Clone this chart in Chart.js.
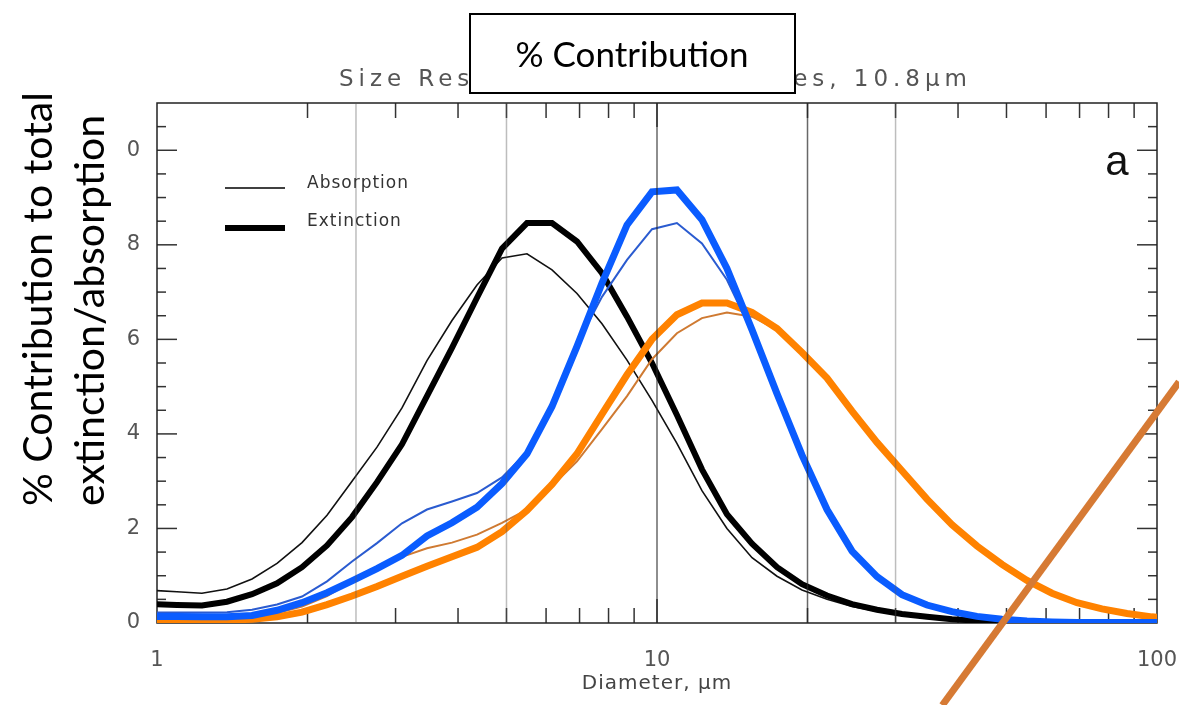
<!DOCTYPE html>
<html>
<head>
<meta charset="utf-8">
<title>% Contribution</title>
<script src="https://cdn.jsdelivr.net/npm/chart.js@4/dist/chart.umd.min.js"></script>
<style>
  body { margin: 0; background: #fff; }
  #wrap { width: 1179px; height: 705px; position: relative; }
</style>
</head>
<body>
<div id="wrap"><canvas id="myChart" width="1179" height="705"></canvas></div>
<script>
// size bins (diameter, um) - log spaced
const diameters = [0.977, 1.096, 1.230, 1.380, 1.549, 1.738, 1.950, 2.188, 2.455, 2.754,
  3.090, 3.467, 3.890, 4.365, 4.898, 5.495, 6.166, 6.918, 7.762, 8.710,
  9.772, 10.96, 12.30, 13.80, 15.49, 17.38, 19.50, 21.88, 24.55, 27.54,
  30.90, 34.67, 38.90, 43.65, 48.98, 54.95, 61.66, 69.18, 77.62, 87.10,
  97.72, 109.6];

// % contribution, black group
const blackAbs = [0.69, 0.66, 0.63, 0.72, 0.93, 1.26, 1.70, 2.28, 3.00, 3.72,
  4.55, 5.55, 6.40, 7.15, 7.72, 7.81, 7.47, 6.97, 6.33, 5.56,
  4.71, 3.80, 2.80, 2.00, 1.38, 0.99, 0.70, 0.50, 0.35, 0.25,
  0.17, 0.11, 0.07, 0.05, 0.03, 0.02, 0.01, 0.01, 0, 0, 0, 0];
const blackExt = [0.40, 0.38, 0.37, 0.45, 0.61, 0.84, 1.18, 1.64, 2.24, 2.98,
  3.78, 4.80, 5.82, 6.88, 7.92, 8.46, 8.46, 8.07, 7.40, 6.48,
  5.50, 4.40, 3.25, 2.30, 1.68, 1.18, 0.82, 0.58, 0.40, 0.28,
  0.19, 0.13, 0.08, 0.05, 0.03, 0.02, 0.01, 0.01, 0, 0, 0, 0];

// blue group
const blueAbs = [0.22, 0.22, 0.22, 0.23, 0.28, 0.39, 0.56, 0.88, 1.30, 1.69,
  2.11, 2.40, 2.57, 2.75, 3.08, 3.62, 4.62, 5.90, 6.90, 7.68,
  8.33, 8.46, 8.03, 7.26, 6.15, 4.82, 3.52, 2.38, 1.50, 0.96,
  0.59, 0.37, 0.23, 0.13, 0.07, 0.04, 0.02, 0.01, 0.01, 0.01, 0.01, 0.01];
const blueExt = [0.14, 0.14, 0.13, 0.13, 0.16, 0.27, 0.43, 0.64, 0.89, 1.15,
  1.43, 1.84, 2.12, 2.45, 2.95, 3.58, 4.58, 5.85, 7.19, 8.42,
  9.12, 9.16, 8.53, 7.50, 6.20, 4.85, 3.55, 2.40, 1.52, 0.98,
  0.60, 0.38, 0.24, 0.14, 0.08, 0.04, 0.02, 0.01, 0.01, 0.01, 0.01, 0.01];

// orange group
const orangeAbs = [0.08, 0.08, 0.08, 0.09, 0.13, 0.21, 0.35, 0.57, 0.88, 1.14,
  1.40, 1.58, 1.70, 1.87, 2.12, 2.40, 2.90, 3.42, 4.10, 4.80,
  5.58, 6.13, 6.45, 6.57, 6.48, 6.20, 5.70, 5.15, 4.45, 3.80,
  3.20, 2.60, 2.06, 1.61, 1.22, 0.88, 0.61, 0.42, 0.29, 0.19, 0.12, 0.08];
const orangeExt = [0.06, 0.05, 0.05, 0.06, 0.08, 0.13, 0.23, 0.39, 0.57, 0.77,
  0.99, 1.20, 1.40, 1.60, 1.93, 2.38, 2.93, 3.58, 4.42, 5.25,
  6.00, 6.52, 6.77, 6.77, 6.57, 6.23, 5.72, 5.18, 4.48, 3.82,
  3.22, 2.62, 2.08, 1.63, 1.24, 0.90, 0.63, 0.43, 0.30, 0.20, 0.13, 0.09];

// hand drawn orange stroke laid over the figure (data units)
const overlayX = [37.2, 110.7];
const overlayY = [-1.74, 5.10];

const xTickValues = [1, 10, 100];
const xTickLabels = ['1', '10', '100'];
const yTickValues = [0, 2, 4, 6, 8, 10];
const yTickLabels = ['0', '2', '4', '6', '8', '0'];
const refLines = [2.5, 5, 10, 20, 30];
const legendLabels = ['Absorption', 'Extinction'];
const plotTitle = 'Size Resolved Mineral Species, 10.8\u03bcm';

function toPoints(xs, ys) {
  return xs.map(function (x, i) { return { x: x, y: ys[i] }; });
}

function seg(ctx, x1, y1, x2, y2) {
  ctx.beginPath();
  ctx.moveTo(x1, y1);
  ctx.lineTo(x2, y2);
  ctx.stroke();
}

// IDL style frame: inward ticks on all sides + vertical reference lines
const idlFrame = {
  id: 'idlFrame',
  beforeDatasetsDraw: function (chart) {
    const ctx = chart.ctx, a = chart.chartArea;
    const xs = chart.scales.x, ys = chart.scales.y;
    ctx.save();
    ctx.lineWidth = 1.5;
    ctx.strokeStyle = '#333';
    for (let dec = 1; dec < 100; dec *= 10) {
      for (let m = 1; m < 10; m++) {
        const v = dec * m;
        if (v <= 1) continue;
        const px = xs.getPixelForValue(v);
        const len = m === 1 ? 24 : 15;
        seg(ctx, px, a.bottom, px, a.bottom - len);
        seg(ctx, px, a.top, px, a.top + len);
      }
    }
    for (let v = 0.5; v < 11; v += 0.5) {
      const py = ys.getPixelForValue(v);
      const len = (v % 2 === 0) ? 20 : 9;
      seg(ctx, a.left, py, a.left + len, py);
      seg(ctx, a.right, py, a.right - len, py);
    }
    ctx.strokeStyle = '#222';
    ctx.strokeRect(a.left, a.top, a.right - a.left, a.bottom - a.top);
    ctx.restore();
  },
  afterDatasetsDraw: function (chart) {
    // reference lines sit on top of the curves
    const ctx = chart.ctx, a = chart.chartArea, xs = chart.scales.x;
    ctx.save();
    ctx.lineWidth = 1.5;
    refLines.forEach(function (v) {
      const px = xs.getPixelForValue(v);
      ctx.strokeStyle = (v === 10 || v === 20) ? 'rgba(40,40,40,0.7)' : 'rgba(90,90,90,0.4)';
      seg(ctx, px, a.top, px, a.bottom);
    });
    ctx.restore();
  },
  afterDraw: function (chart) {
    const ctx = chart.ctx, a = chart.chartArea;
    ctx.save();

    // legend inside the plot
    ctx.strokeStyle = '#000';
    ctx.lineWidth = 1.5;
    seg(ctx, a.left + 68, 188, a.left + 128, 188);
    ctx.lineWidth = 6;
    seg(ctx, a.left + 68, 228, a.left + 128, 228);
    ctx.fillStyle = '#333';
    ctx.font = '17px "DejaVu Sans"';
    ctx.letterSpacing = '1px';
    ctx.textBaseline = 'middle';
    ctx.textAlign = 'left';
    ctx.fillText(legendLabels[0], a.left + 150, 184);
    ctx.fillText(legendLabels[1], a.left + 150, 222);

    // panel letter
    ctx.letterSpacing = '0px';
    ctx.fillStyle = '#111';
    ctx.font = '42px "Liberation Sans"';
    ctx.textAlign = 'center';
    ctx.textBaseline = 'alphabetic';
    ctx.fillText('a', 1117, 175);

    // original plot title (partly hidden by the box), spread over 339..972
    ctx.fillStyle = '#555';
    ctx.font = '23px "DejaVu Sans"';
    ctx.textAlign = 'left';
    ctx.textBaseline = 'middle';
    const w0 = ctx.measureText(plotTitle).width;
    const ls = (972 - 339 - w0) / plotTitle.length;
    ctx.letterSpacing = ls.toFixed(2) + 'px';
    ctx.fillText(plotTitle, 339, 80);

    // x axis title
    ctx.fillStyle = '#444';
    ctx.font = '20px "DejaVu Sans"';
    ctx.letterSpacing = '1px';
    ctx.textAlign = 'center';
    ctx.fillText('Diameter, \u03bcm', (a.left + a.right) / 2, 684);
    ctx.letterSpacing = '0px';

    // box over the title
    ctx.fillStyle = '#fff';
    ctx.fillRect(470, 14, 325, 79);
    ctx.strokeStyle = '#000';
    ctx.lineWidth = 2;
    ctx.strokeRect(470, 14, 325, 79);
    ctx.fillStyle = '#000';
    ctx.font = '35px Lato';
    ctx.fillText('% Contribution', 632, 56);

    // y axis title, two rotated lines
    ctx.font = '41px Lato';
    ctx.textAlign = 'left';
    ctx.textBaseline = 'alphabetic';
    ctx.save();
    ctx.translate(52, 506);
    ctx.rotate(-Math.PI / 2);
    ctx.fillText('% Contribution to total', 0, 0);
    ctx.restore();
    ctx.save();
    ctx.translate(104, 506);
    ctx.rotate(-Math.PI / 2);
    ctx.fillText('extinction/absorption', 0, 0);
    ctx.restore();

    ctx.restore();
  }
};

const ctx = document.getElementById('myChart').getContext('2d');
const myChart = new Chart(ctx, {
  type: 'line',
  data: {
    datasets: [
      { label: 'overlay', data: toPoints(overlayX, overlayY), borderColor: 'rgb(214,122,52)', borderWidth: 7, clip: false, order: 0 },
      { label: 'Blue extinction', data: toPoints(diameters, blueExt), borderColor: '#0a5cff', borderWidth: 7, order: 1 },
      { label: 'Blue absorption', data: toPoints(diameters, blueAbs), borderColor: '#2a5bd0', borderWidth: 2, order: 2 },
      { label: 'Orange extinction', data: toPoints(diameters, orangeExt), borderColor: '#ff8200', borderWidth: 7, order: 3 },
      { label: 'Orange absorption', data: toPoints(diameters, orangeAbs), borderColor: '#cf7a32', borderWidth: 2, order: 4 },
      { label: 'Black extinction', data: toPoints(diameters, blackExt), borderColor: '#000', borderWidth: 6, order: 5 },
      { label: 'Black absorption', data: toPoints(diameters, blackAbs), borderColor: '#111', borderWidth: 1.6, order: 6 }
    ]
  },
  options: {
    responsive: false,
    animation: false,
    devicePixelRatio: 1,
    layout: { padding: { top: 103, right: 22, left: 0, bottom: 0 } },
    elements: {
      point: { radius: 0 },
      line: { tension: 0, fill: false }
    },
    plugins: {
      legend: { display: false },
      tooltip: { enabled: false },
      title: { display: false }
    },
    scales: {
      x: {
        type: 'logarithmic',
        min: 1,
        max: 100,
        grid: { display: false },
        border: { display: false },
        afterBuildTicks: function (s) { s.ticks = xTickValues.map(function (v) { return { value: v }; }); },
        afterFit: function (s) { s.height = 82; s.paddingLeft = 0; s.paddingRight = 0; },
        ticks: {
          autoSkip: false,
          maxRotation: 0,
          padding: 17,
          color: '#555',
          font: { family: 'DejaVu Sans', size: 21 },
          callback: function (v, i) { return xTickLabels[i]; }
        }
      },
      y: {
        type: 'linear',
        min: 0,
        max: 11,
        grid: { display: false },
        border: { display: false },
        afterBuildTicks: function (s) { s.ticks = yTickValues.map(function (v) { return { value: v }; }); },
        afterFit: function (s) { s.width = 157; s.paddingTop = 0; s.paddingBottom = 0; },
        ticks: {
          padding: 9,
          color: '#555',
          font: { family: 'DejaVu Sans', size: 21 },
          callback: function (v, i) { return yTickLabels[i]; }
        }
      }
    }
  },
  plugins: [idlFrame]
});
</script>
</body>
</html>
